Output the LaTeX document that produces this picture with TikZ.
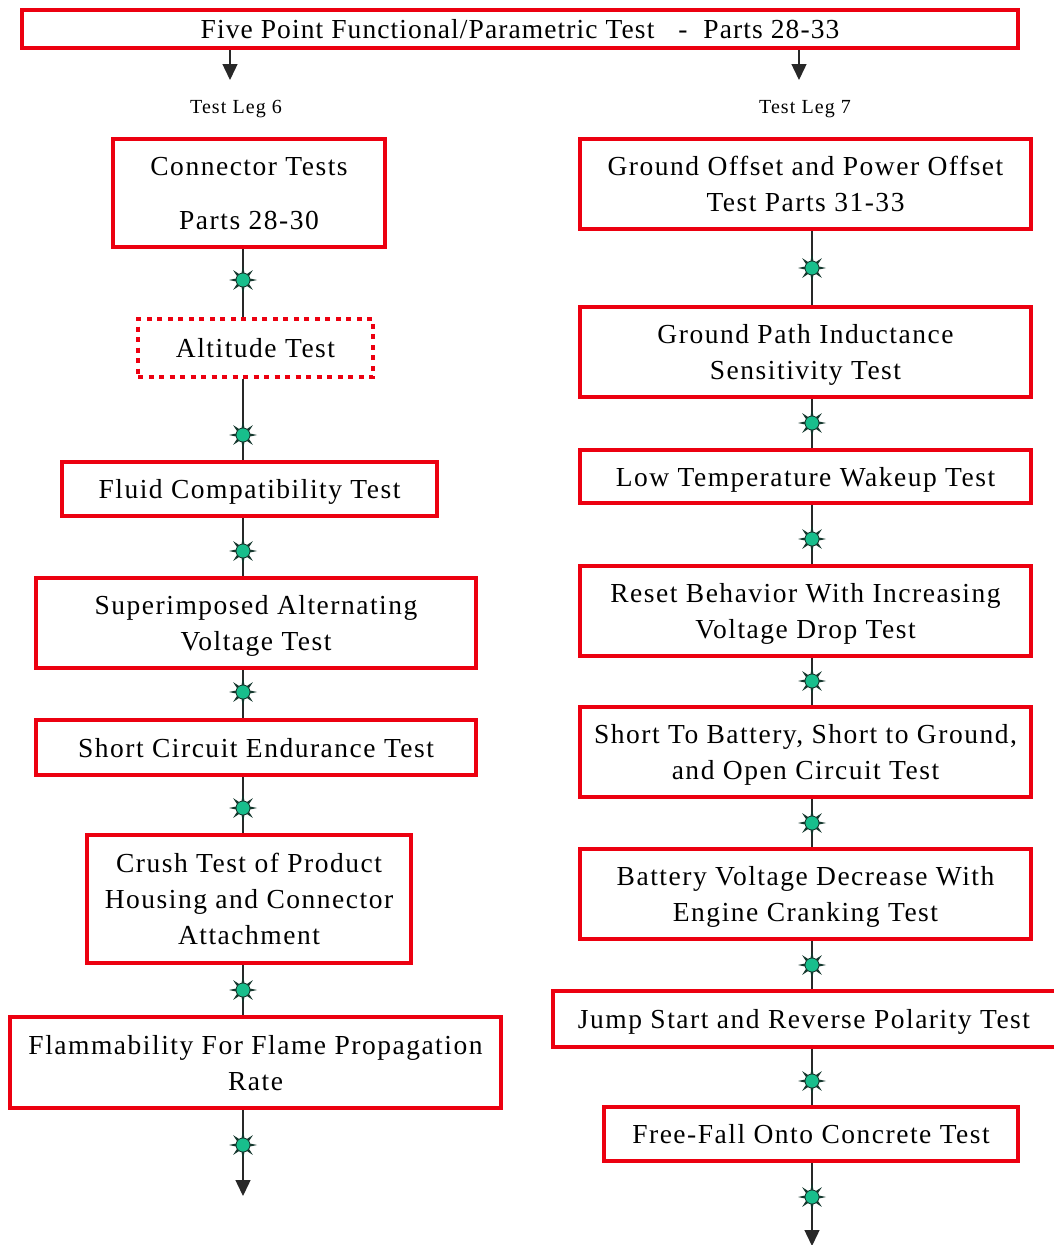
\documentclass[tikz,border=0pt]{standalone}
\usepackage{fontspec}
\setmainfont{Liberation Serif}[LetterSpace=5.5]
\usetikzlibrary{arrows.meta}

\definecolor{boxred}{RGB}{236,0,16}
\definecolor{sparkfill}{RGB}{24,190,140}
\definecolor{sparkdark}{RGB}{20,55,45}
\definecolor{wire}{RGB}{40,40,40}

\begin{document}
\begin{tikzpicture}[x=1pt,y=-1pt,
  every node/.style={font=\fontsize{27.5}{36}\selectfont},
  testbox/.style={draw=boxred, line width=4pt, fill=white, align=center,
    inner sep=0pt, text depth=0pt, minimum width=#1},
  dotbox/.style={draw=boxred, line width=4.5pt, dash pattern=on 5pt off 5.5pt,
    fill=white, align=center, inner sep=0pt, text depth=0pt, minimum width=#1},
  legtext/.style={font=\fontsize{20}{24}\selectfont},
  conn/.style={draw=wire, line width=1.4pt},
  arr/.style={conn, -{Triangle[length=16pt,width=15pt]}},
  spark/.pic={
    \foreach \a in {0,45,...,315}
      \fill[sparkdark] (\a:14) -- (\a+20:5.5) -- (\a-20:5.5) -- cycle;
    \fill[sparkfill, draw=sparkdark, line width=0.8pt] (0,0) circle (7);
  }]

\clip (0,0) rectangle (1054,1245);
\useasboundingbox (0,0) rectangle (1054,1245);
\fill[white] (0,0) rectangle (1054,1245);

% ---------- title ----------
\node[testbox=996pt, minimum height=38pt] (title) at (520,29)
  {\addfontfeature{LetterSpace=4}Five Point Functional/Parametric Test\ \ \ -\ \ Parts 28-33};

\coordinate (legA) at (230,80);
\coordinate (legB) at (799,80);
\draw[arr] (title.south -| legA) -- (legA);
\draw[arr] (title.south -| legB) -- (legB);
\node[legtext] (legsix) at (236,109) {Test Leg 6};
\node[legtext] (legseven) at (805,109) {Test Leg 7};

% ---------- left leg ----------
\node[testbox=272pt, minimum height=108pt] (L1) at (249,193)
  {Connector Tests\\[18pt]Parts 28-30};
\node[dotbox=235pt, minimum height=58pt] (L2) at (255.5,348) {Altitude Test};
\node[testbox=375pt, minimum height=54pt] (L3) at (249.5,489) {Fluid Compatibility Test};
\node[testbox=440pt, minimum height=90pt] (L4) at (256,623)
  {Superimposed Alternating\\Voltage Test};
\node[testbox=440pt, minimum height=55pt] (L5) at (256,747.5) {Short Circuit Endurance Test};
\node[testbox=324pt, minimum height=128pt] (L6) at (249,899)
  {Crush Test of Product\\Housing and Connector\\Attachment};
\node[testbox=491pt, minimum height=91pt] (L7) at (255.5,1062.5)
  {Flammability For Flame Propagation\\Rate};

\coordinate (ls1) at (243,280);
\coordinate (ls2) at (243,435);
\coordinate (ls3) at (243,551);
\coordinate (ls4) at (243,692);
\coordinate (ls5) at (243,808);
\coordinate (ls6) at (243,990);
\coordinate (ls7) at (243,1145);
\coordinate (lend) at (243,1196);

\draw[conn] (L1.south -| ls1) -- (L2.north -| ls1);
\draw[conn] (L2.south -| ls2) -- (L3.north -| ls2);
\draw[conn] (L3.south -| ls3) -- (L4.north -| ls3);
\draw[conn] (L4.south -| ls4) -- (L5.north -| ls4);
\draw[conn] (L5.south -| ls5) -- (L6.north -| ls5);
\draw[conn] (L6.south -| ls6) -- (L7.north -| ls6);
\draw[arr] (L7.south -| ls7) -- (lend);

\foreach \s in {ls1,ls2,ls3,ls4,ls5,ls6,ls7} \pic at (\s) {spark};

% ---------- right leg ----------
\node[testbox=451pt, minimum height=90pt] (R1) at (805.5,184)
  {Ground Offset and Power Offset\\Test Parts 31-33};
\node[testbox=451pt, minimum height=90pt] (R2) at (805.5,352)
  {Ground Path Inductance\\Sensitivity Test};
\node[testbox=451pt, minimum height=53pt] (R3) at (805.5,476.5) {Low Temperature Wakeup Test};
\node[testbox=451pt, minimum height=90pt] (R4) at (805.5,611)
  {Reset Behavior With Increasing\\Voltage Drop Test};
\node[testbox=451pt, minimum height=90pt] (R5) at (805.5,752)
  {Short To Battery, Short to Ground,\\and Open Circuit Test};
\node[testbox=451pt, minimum height=90pt] (R6) at (805.5,894)
  {Battery Voltage Decrease With\\Engine Cranking Test};
\node[testbox=510pt, minimum height=56pt] (R7) at (808,1018.5) {};
\node[text depth=0pt] (R7text) at (804,1018.5) {Jump Start and Reverse Polarity Test};
\node[testbox=414pt, minimum height=54pt] (R8) at (811,1134) {Free-Fall Onto Concrete Test};

\coordinate (rs1) at (812,268);
\coordinate (rs2) at (812,423);
\coordinate (rs3) at (812,539);
\coordinate (rs4) at (812,681);
\coordinate (rs5) at (812,823);
\coordinate (rs6) at (812,965);
\coordinate (rs7) at (812,1081);
\coordinate (rs8) at (812,1197);
\coordinate (rend) at (812,1246);

\draw[conn] (R1.south -| rs1) -- (R2.north -| rs1);
\draw[conn] (R2.south -| rs2) -- (R3.north -| rs2);
\draw[conn] (R3.south -| rs3) -- (R4.north -| rs3);
\draw[conn] (R4.south -| rs4) -- (R5.north -| rs4);
\draw[conn] (R5.south -| rs5) -- (R6.north -| rs5);
\draw[conn] (R6.south -| rs6) -- (R7.north -| rs6);
\draw[conn] (R7.south -| rs7) -- (R8.north -| rs7);
\draw[arr] (R8.south -| rs8) -- (rend);

\foreach \s in {rs1,rs2,rs3,rs4,rs5,rs6,rs7,rs8} \pic at (\s) {spark};
\end{tikzpicture}
\end{document}
